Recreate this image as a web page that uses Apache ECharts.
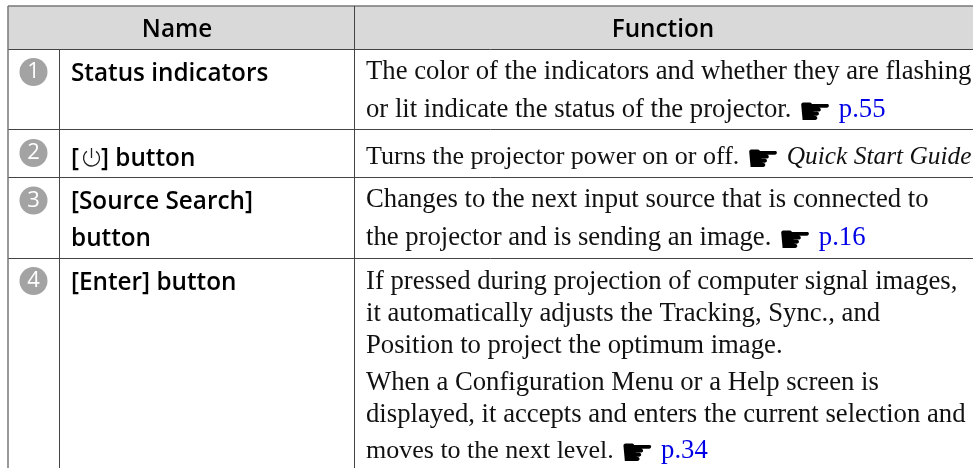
<!DOCTYPE html>
<html>
<head>
<meta charset="utf-8">
<style>
html,body{margin:0;padding:0;background:#fff}
#main{width:973px;height:468px}
</style>
<script src="https://cdn.jsdelivr.net/npm/echarts@6/dist/echarts.min.js"></script>
</head>
<body>
<div id="main"></div>
<script>
// table content
const headers = ['Name', 'Function'];
const rowNumbers = ['1', '2', '3', '4'];
const names = [
    ['Status indicators'],
    ['[', '] button'],
    ['[Source Search]', 'button'],
    ['[Enter] button']
];
const functions = [
    ['The color of the indicators and whether they are flashing',
     'or lit indicate the status of the projector. {h|☛} {l|p.55}'],
    ['{t|Turns the projector power on or off.} {h|☛} {i|Quick Start Guide}'],
    ['Changes to the next input source that is connected to',
     'the projector and is sending an image. {h|☛} {l|p.16}'],
    ['If pressed during projection of computer signal images,',
     'it automatically adjusts the Tracking, Sync., and',
     'Position to project the optimum image.',
     'When a Configuration Menu or a Help screen is',
     'displayed, it accepts and enters the current selection and',
     '{t|moves to the next level.} {h|☛} {l|p.34}']
];

// layout in page pixels, the axes below map 1:1
const colEdges = [8, 59.5, 354.5, 973];
const rowEdges = [6, 49.5, 129.5, 177.5, 258.5, 468];
const nameBaselines = [[81.5], [166], [209.5, 246.5], [290.5]];
const funcBaselines = [[80, 117.7], [165], [208, 245.7], [289.7, 321.7, 353.7, 390.7, 422.7, 458.7]];

const nameFont = {fontFamily: 'Open Sans', fontWeight: 600, fontSize: 24.3, fill: '#000'};
const funcFont = {fontFamily: 'Liberation Serif', fontSize: 26.7, fill: '#111'};
const funcRich = {
    h: {fontFamily: 'DejaVu Sans', fontSize: 38, lineHeight: 28, verticalAlign: 'top', fill: '#000'},
    l: {fontFamily: 'Liberation Serif', fontSize: 26.7, lineHeight: 30, fill: '#0000e6'},
    t: {fontFamily: 'Liberation Serif', fontSize: 26, lineHeight: 30, fill: '#111'},
    i: {fontFamily: 'Liberation Serif', fontStyle: 'italic', fontSize: 25.4, lineHeight: 30, fill: '#111'}
};

function textAt(api, x, baseline, size, style, extra) {
    const p = api.coord([x, baseline]);
    return Object.assign({
        type: 'text',
        style: Object.assign({x: p[0], y: p[1] - size * 0.3, text: '', verticalAlign: 'middle'}, style)
    }, extra);
}

function renderTable(params, api) {
    const kids = [];
    const c = (x, y) => api.coord([x, y]);
    const line = (x1, y1, x2, y2, stroke, w) => {
        const a = c(x1, y1), b = c(x2, y2);
        kids.push({type: 'line', shape: {x1: a[0], y1: a[1], x2: b[0], y2: b[1]},
            style: {stroke: stroke, lineWidth: w}});
    };
    // header band
    const h0 = c(colEdges[0], rowEdges[0]), h1 = c(colEdges[3], rowEdges[1]);
    kids.push({type: 'rect', shape: {x: h0[0], y: h0[1], width: h1[0] - h0[0], height: h1[1] - h0[1]},
        style: {fill: '#d9d9d9'}});
    // rules
    line(colEdges[0], rowEdges[0], colEdges[3], rowEdges[0], '#777', 1.5);
    rowEdges.slice(1, 5).forEach((y) => line(colEdges[0], y, colEdges[3], y, '#444', 1));
    line(colEdges[0], rowEdges[0], colEdges[0], rowEdges[5], '#777', 1.5);
    line(colEdges[1], rowEdges[1], colEdges[1], rowEdges[5], '#444', 1);
    line(colEdges[2], rowEdges[0], colEdges[2], rowEdges[5], '#444', 1);
    // headers
    kids.push(textAt(api, 177, 37, nameFont.fontSize, Object.assign({text: headers[0], align: 'center'}, nameFont)));
    kids.push(textAt(api, 663, 37, nameFont.fontSize, Object.assign({text: headers[1], align: 'center'}, nameFont)));
    // row number badges
    const badgeY = [72, 153, 200.5, 281];
    rowNumbers.forEach((n, i) => {
        const p = c(33.5, badgeY[i]);
        kids.push({type: 'circle', shape: {cx: p[0], cy: p[1], r: 14}, style: {fill: '#a3a3a3'}});
        kids.push({type: 'text', style: {x: p[0], y: p[1], text: n, align: 'center', verticalAlign: 'middle',
            fontFamily: 'Open Sans', fontSize: 22, fill: '#fff'}});
    });
    // names
    names.forEach((lines, i) => {
        lines.forEach((t, j) => {
            const y = i === 1 ? nameBaselines[1][0] : nameBaselines[i][j];
            const x = i === 1 && j === 1 ? 101 : 71;
            kids.push(textAt(api, x, y, nameFont.fontSize, Object.assign({text: t}, nameFont)));
        });
    });
    // power glyph between the brackets
    const pc = c(91.5, 158);
    kids.push({type: 'arc', shape: {cx: pc[0], cy: pc[1], r: 8, startAngle: -Math.PI / 2 + 0.6, endAngle: -Math.PI / 2 - 0.6 + Math.PI * 2},
        style: {stroke: '#222', lineWidth: 1.3, fill: null}});
    line(91.5, 148, 91.5, 158, '#222', 1.3);
    // functions
    functions.forEach((lines, i) => {
        lines.forEach((t, j) => {
            kids.push(textAt(api, 366, funcBaselines[i][j], funcFont.fontSize,
                Object.assign({text: t, rich: funcRich}, funcFont)));
        });
    });
    return {type: 'group', children: kids};
}

const chart = echarts.init(document.getElementById('main'), null, {renderer: 'canvas'});
chart.setOption({
    animation: false,
    backgroundColor: '#fff',
    grid: {left: 0, right: 0, top: 0, bottom: 0},
    xAxis: {type: 'value', min: 0, max: 973, show: false},
    yAxis: {type: 'value', min: 0, max: 468, inverse: true, show: false},
    series: [{
        type: 'custom',
        coordinateSystem: 'cartesian2d',
        clip: false,
        silent: true,
        data: [[0, 0]],
        renderItem: renderTable
    }]
});
</script>
</body>
</html>
